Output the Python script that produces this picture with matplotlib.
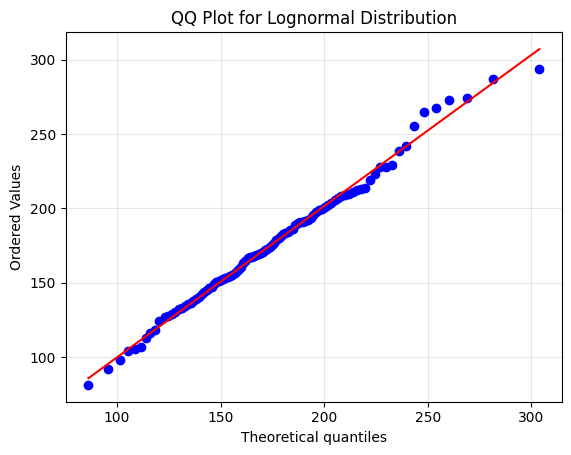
import numpy as np
import matplotlib
matplotlib.use("Agg")
import matplotlib.pyplot as plt

# theoretical quantiles
theoretical = [
    86.2, 95.4, 101.2, 105.2, 108.7, 111.5, 114.0, 116.0, 118.4, 120.4,
    123.2, 124.8, 126.5, 128.1, 129.7, 131.3, 132.7, 134.2, 135.6, 136.9,
    138.2, 139.5, 140.8, 142.0, 143.2, 144.4, 145.6, 146.8, 147.9, 149.1,
    150.1, 151.3, 152.3, 153.5, 154.5, 155.6, 156.7, 157.7, 158.7, 159.8,
    160.9, 161.9, 163.0, 164.0, 165.1, 166.2, 167.2, 168.3, 169.3, 170.4,
    171.4, 172.5, 173.6, 174.7, 175.8, 176.9, 178.0, 179.1, 180.2, 181.3,
    182.5, 183.7, 184.8, 186.0, 187.2, 188.4, 189.6, 190.9, 192.2, 193.5,
    194.8, 196.2, 197.5, 198.9, 200.4, 201.9, 203.5, 205.0, 206.7, 208.3,
    210.1, 211.9, 213.7, 215.7, 217.7, 219.9, 222.1, 224.6, 227.0, 229.7,
    232.5, 235.9, 239.5, 243.2, 248.1, 253.9, 260.3, 268.9, 281.5, 303.8,
]

# ordered sample values
ordered = [
    81.2, 91.7, 98.0, 104.2, 105.2, 106.9, 112.5, 116.3, 118.1, 124.2,
    126.6, 127.5, 128.8, 130.4, 132.0, 133.2, 134.4, 135.8, 136.6, 137.6,
    138.9, 140.6, 142.3, 143.9, 145.3, 146.2, 147.4, 148.9, 150.4, 151.2,
    151.8, 152.6, 153.1, 153.8, 154.4, 155.3, 156.2, 157.6, 158.9, 160.8,
    163.0, 164.9, 166.4, 167.1, 167.6, 168.1, 168.7, 169.4, 170.0, 170.9,
    171.8, 172.9, 174.0, 175.4, 176.9, 178.6, 180.2, 181.7, 182.6, 183.4,
    184.3, 185.2, 186.0, 188.6, 190.0, 190.5, 190.9, 191.3, 192.0, 193.4,
    195.5, 197.8, 198.8, 199.8, 200.9, 202.3, 203.8, 205.4, 206.9, 208.0,
    208.9, 209.9, 210.9, 212.2, 213.0, 213.6, 218.8, 223.4, 227.6, 228.0,
    228.9, 238.9, 242.2, 255.6, 265.1, 267.6, 272.9, 274.3, 287.0, 293.8,
]

osm = np.array(theoretical)
osr = np.array(ordered)
slope, intercept = np.polyfit(osm, osr, 1)

fig = plt.figure(figsize=(5.71, 4.55), dpi=100)
ax = fig.add_subplot(111)
fig.subplots_adjust(left=0.1154, right=0.984, bottom=0.117, top=0.929)

ax.plot(osm, osr, 'bo')
ax.plot(osm, slope * osm + intercept, 'r-')

ax.set_title("QQ Plot for Lognormal Distribution")
ax.set_xlabel("Theoretical quantiles")
ax.set_ylabel("Ordered Values")
ax.grid(True, alpha=0.3)

fig.savefig("out.png", dpi=100)
print(slope, intercept)
